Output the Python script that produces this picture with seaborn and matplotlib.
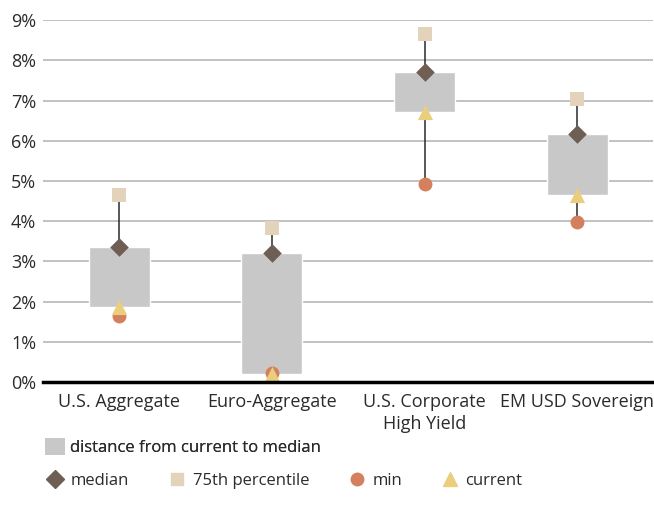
import numpy as np
import pandas as pd
import matplotlib
matplotlib.use("Agg")
import matplotlib.pyplot as plt
import seaborn as sns
from matplotlib.lines import Line2D
from matplotlib.patches import Patch

# Yield ranges per bond segment (in %)
categories = ["U.S. Aggregate", "Euro-Aggregate", "U.S. Corporate\nHigh Yield", "EM USD Sovereign"]
median = [3.35, 3.21, 7.72, 6.17]
pct75 = [4.66, 3.82, 8.65, 7.03]
minimum = [1.63, 0.23, 4.93, 3.97]
current = [1.87, 0.19, 6.72, 4.65]
yticks = [0, 1, 2, 3, 4, 5, 6, 7, 8, 9]

BOX = "#C8C8C8"
C_MED = "#6E5E54"
C_P75 = "#E3D3BA"
C_MIN = "#D4805F"
C_CUR = "#EACE7E"
TXT = "#2b2b2b"

sns.set_theme(style="white")
plt.rcParams["font.family"] = ["Open Sans", "DejaVu Sans"]

fig = plt.figure(figsize=(6.54, 5.05), dpi=100)
ax = fig.add_axes([0.066, 0.2436, 0.933, 0.7164])

pos = np.arange(len(categories))

# whisker from min to 75th percentile
ax.vlines(pos, minimum, pct75, color="#2a2a2a", lw=1.1, zorder=1)

# floating box from current to median
ax.bar(pos, np.subtract(median, current), bottom=current, width=0.4,
       color=BOX, zorder=2)

series = [
    ("median", median, "D", C_MED, 90),
    ("75th percentile", pct75, "s", C_P75, 110),
    ("min", minimum, "o", C_MIN, 100),
    ("current", current, "^", C_CUR, 120),
]
for i, (name, vals, mk, col, sz) in enumerate(series):
    df = pd.DataFrame({"x": pos, "y": vals})
    sns.scatterplot(data=df, x="x", y="y", marker=mk, color=col, s=sz,
                    linewidth=0, ax=ax, zorder=3 + i, clip_on=False)

ax.set_xlim(-0.5, 3.5)
ax.set_ylim(0, 9)
ax.set_yticks(yticks)
ax.set_yticklabels([f"{v}%" for v in yticks])
ax.set_xticks(pos)
ax.set_xticklabels(categories, linespacing=1.25)
ax.set_xlabel("")
ax.set_ylabel("")
ax.grid(axis="y", color="#BDBDBD", lw=1.3)
ax.set_axisbelow(True)
for s in ["left", "right", "top"]:
    ax.spines[s].set_visible(False)
ax.spines["bottom"].set_color("black")
ax.spines["bottom"].set_linewidth(2.5)
ax.spines["bottom"].set_zorder(10)
ax.tick_params(axis="both", length=0, labelsize=13, colors=TXT)
ax.tick_params(axis="x", pad=8)
ax.tick_params(axis="y", pad=5)

leg1 = fig.legend(handles=[Patch(facecolor=BOX, edgecolor="none", label="distance from current to median")],
                  loc="center left", bbox_to_anchor=(0.069, 0.114), frameon=False,
                  fontsize=12, handlelength=1.2, handleheight=1.15, handletextpad=0.3,
                  labelcolor=TXT, borderaxespad=0, borderpad=0)
fig.add_artist(leg1)

mk_handles = [
    Line2D([], [], marker="D", color=C_MED, ls="none", markersize=9, label="median"),
    Line2D([], [], marker="s", color=C_P75, ls="none", markersize=8.5, label="75th percentile"),
    Line2D([], [], marker="o", color=C_MIN, ls="none", markersize=9, label="min"),
    Line2D([], [], marker="^", color=C_CUR, ls="none", markersize=10.5, label="current"),
]
fig.legend(handles=mk_handles, loc="center left", bbox_to_anchor=(0.0716, 0.048),
           ncol=4, frameon=False, fontsize=12, handlelength=1.0, handletextpad=0.45,
           columnspacing=2.35, labelcolor=TXT, borderaxespad=0, borderpad=0)

fig.savefig("out.png", dpi=100)
